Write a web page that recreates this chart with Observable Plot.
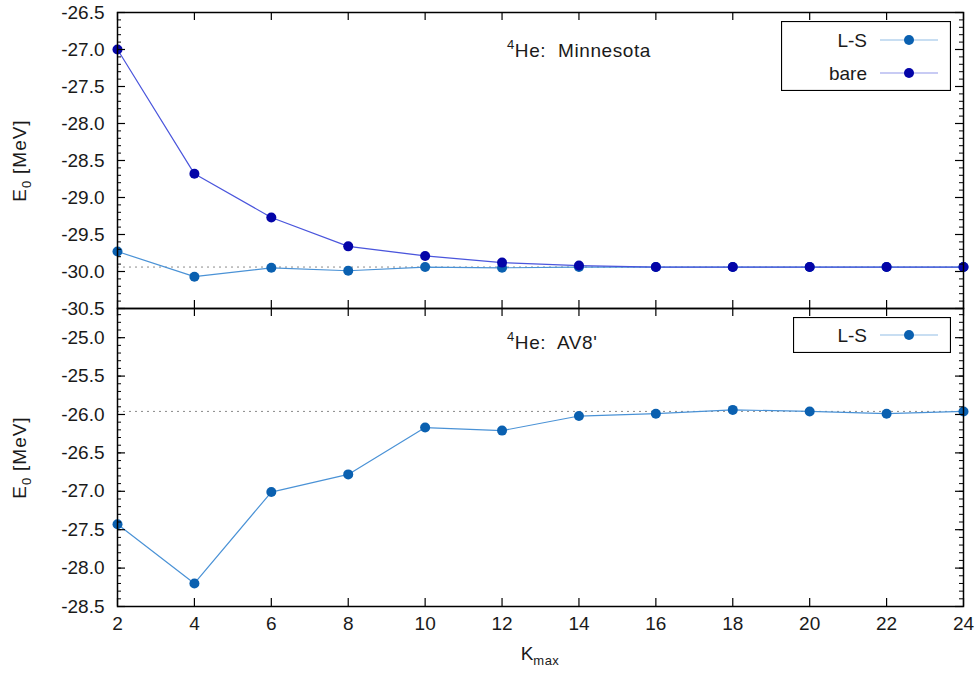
<!DOCTYPE html>
<html>
<head>
<meta charset="utf-8">
<script src="https://cdn.jsdelivr.net/npm/d3@7"></script>
<script src="https://cdn.jsdelivr.net/npm/@observablehq/plot@0.6"></script>
<style>
  html, body { margin: 0; padding: 0; background: #fff; }
  #chart { position: relative; width: 977px; height: 673px; font-family: "Liberation Sans", Arial, sans-serif; color: #1a1a1a; }
  #chart svg.plot { position: absolute; left: 0; }
  .ann { position: absolute; font-size: 19px; line-height: 19px; white-space: pre; letter-spacing: 0.6px; }
  .ann sup { font-size: 13px; vertical-align: 0; position: relative; top: -8px; }
  .ylab { position: absolute; width: 200px; text-align: center; font-size: 19px; line-height: 19px; transform: rotate(-90deg); white-space: nowrap; letter-spacing: 1px; }
  .ylab sub, .xlab sub { font-size: 13px; vertical-align: 0; position: relative; top: 5px; letter-spacing: 0.5px; }
  .xlab { position: absolute; width: 200px; text-align: center; font-size: 19px; line-height: 19px; }
</style>
</head>
<body>
<div id="chart"></div>
<script>
// ---- data ----
const K = [2, 4, 6, 8, 10, 12, 14, 16, 18, 20, 22, 24];
const minnesotaLS   = [-29.73, -30.07, -29.95, -29.99, -29.94, -29.95, -29.94, -29.94, -29.94, -29.94, -29.94, -29.94];
const minnesotaBare = [-27.00, -28.68, -29.27, -29.66, -29.79, -29.88, -29.92, -29.94, -29.94, -29.94, -29.94, -29.94];
const av8LS         = [-27.43, -28.20, -27.01, -26.78, -26.17, -26.21, -26.02, -25.99, -25.94, -25.96, -25.99, -25.96];
const minnesotaRef = [-29.94];
const av8Ref = [-25.96];
const topYTicks = [-30.5, -30.0, -29.5, -29.0, -28.5, -28.0, -27.5, -27.0, -26.5];
const botYTicks = [-28.5, -28.0, -27.5, -27.0, -26.5, -26.0, -25.5, -25.0];
const topYDomain = [-30.5, -26.5];
const botYDomain = [-28.5, -24.62];
const topMinor = d3.range(-305, -264, 1).map(v => v / 10);
const botMinor = d3.range(-285, -246, 1).map(v => v / 10);

// ---- styles ----
const W = 977, ML = 117, MR = 14;
const innerW = W - ML - MR;
const lsLine = "#4a92d6", lsDot = "#0a60b0";
const bareLine = "#4a55dc", bareDot = "#0404a8";
const font = "Liberation Sans, Arial, sans-serif";
const fmt = d => d.toFixed(1);

const rowsLS = K.map((k, i) => ({k, e: minnesotaLS[i]}));
const rowsBare = K.map((k, i) => ({k, e: minnesotaBare[i]}));
const rowsAV8 = K.map((k, i) => ({k, e: av8LS[i]}));

function frameTicks(innerH, major, minor) {
  return [
    Plot.tickY(major, {y: d => d, insetRight: innerW - 8, stroke: "#000", strokeWidth: 1.2}),
    Plot.tickY(major, {y: d => d, insetLeft: innerW - 8, stroke: "#000", strokeWidth: 1.2}),
    Plot.tickY(minor, {y: d => d, insetRight: innerW - 4, stroke: "#000", strokeWidth: 1}),
    Plot.tickY(minor, {y: d => d, insetLeft: innerW - 4, stroke: "#000", strokeWidth: 1}),
    Plot.tickX(K, {x: d => d, insetTop: innerH - 8, stroke: "#000", strokeWidth: 1.2}),
    Plot.tickX(K, {x: d => d, insetBottom: innerH - 8, stroke: "#000", strokeWidth: 1.2})
  ];
}

// ---- top panel ----
const topH = 310, topMT = 12, topMB = 2;
const topPlot = Plot.plot({
  width: W, height: topH,
  marginLeft: ML, marginRight: MR, marginTop: topMT, marginBottom: topMB,
  style: {fontFamily: font, fontSize: "19px", color: "#1a1a1a", overflow: "visible"},
  x: {domain: [2, 24], axis: null},
  y: {domain: topYDomain},
  marks: [
    Plot.ruleY(minnesotaRef, {stroke: "#8a8a8a", strokeDasharray: "2,4", strokeWidth: 1}),
    Plot.line(rowsLS, {x: "k", y: "e", stroke: lsLine, strokeWidth: 1.2}),
    Plot.line(rowsBare, {x: "k", y: "e", stroke: bareLine, strokeWidth: 1.2}),
    Plot.dot(rowsLS, {x: "k", y: "e", r: 5, fill: lsDot}),
    Plot.dot(rowsBare, {x: "k", y: "e", r: 5, fill: bareDot}),
    ...frameTicks(topH - topMT - topMB, topYTicks, topMinor),
    Plot.frame({stroke: "#000", strokeWidth: 1.5}),
    Plot.axisY(topYTicks, {anchor: "left", tickSize: 0, tickPadding: 13, tickFormat: fmt, label: null, fontSize: 19, fill: "#1a1a1a"})
  ]
});
topPlot.classList.add("plot");
topPlot.style.top = "0px";

// ---- bottom panel ----
const botH = 375, botMT = 10, botMB = 67;
const botPlot = Plot.plot({
  width: W, height: botH,
  marginLeft: ML, marginRight: MR, marginTop: botMT, marginBottom: botMB,
  style: {fontFamily: font, fontSize: "19px", color: "#1a1a1a", overflow: "visible"},
  x: {domain: [2, 24]},
  y: {domain: botYDomain},
  marks: [
    Plot.ruleY(av8Ref, {stroke: "#8a8a8a", strokeDasharray: "2,4", strokeWidth: 1}),
    Plot.line(rowsAV8, {x: "k", y: "e", stroke: lsLine, strokeWidth: 1.2}),
    Plot.dot(rowsAV8, {x: "k", y: "e", r: 5, fill: lsDot}),
    ...frameTicks(botH - botMT - botMB, botYTicks, botMinor),
    Plot.frame({stroke: "#000", strokeWidth: 1.5}),
    Plot.axisY(botYTicks, {anchor: "left", tickSize: 0, tickPadding: 13, tickFormat: fmt, label: null, fontSize: 19, fill: "#1a1a1a"}),
    Plot.axisX(K, {anchor: "bottom", tickSize: 0, tickPadding: 10, label: null, fontSize: 19, fill: "#1a1a1a"})
  ]
});
botPlot.classList.add("plot");
botPlot.style.top = "298px";

const chart = document.getElementById("chart");
chart.appendChild(topPlot);
chart.appendChild(botPlot);

// ---- annotations, axis titles ----
function addHTML(html) { chart.insertAdjacentHTML("beforeend", html); }
addHTML(`<div class="ann" style="left:507px;top:41px"><sup>4</sup>He:&nbsp; Minnesota</div>`);
addHTML(`<div class="ann" style="left:507px;top:333px"><sup>4</sup>He:&nbsp; AV8'</div>`);
addHTML(`<div class="ylab" style="left:-80px;top:150px">E<sub>0</sub> [MeV]</div>`);
addHTML(`<div class="ylab" style="left:-80px;top:447px">E<sub>0</sub> [MeV]</div>`);
addHTML(`<div class="xlab" style="left:440px;top:644px">K<sub>max</sub></div>`);

// ---- legends ----
function legend(left, topPx, w, h, entries) {
  const ns = "http://www.w3.org/2000/svg";
  const svg = document.createElementNS(ns, "svg");
  svg.setAttribute("width", w);
  svg.setAttribute("height", h);
  svg.style.position = "absolute";
  svg.style.left = left + "px";
  svg.style.top = topPx + "px";
  svg.style.fontFamily = font;
  const box = document.createElementNS(ns, "rect");
  box.setAttribute("x", 0.5); box.setAttribute("y", 0.5);
  box.setAttribute("width", w - 1); box.setAttribute("height", h - 1);
  box.setAttribute("fill", "#fff"); box.setAttribute("stroke", "#000"); box.setAttribute("stroke-width", 1.2);
  svg.appendChild(box);
  entries.forEach(en => {
    const t = document.createElementNS(ns, "text");
    t.setAttribute("x", 867 - left); t.setAttribute("y", en.y - topPx);
    t.setAttribute("text-anchor", "end"); t.setAttribute("dominant-baseline", "central");
    t.setAttribute("font-size", 19); t.setAttribute("fill", "#1a1a1a");
    t.textContent = en.label;
    svg.appendChild(t);
    const l = document.createElementNS(ns, "line");
    l.setAttribute("x1", 880 - left); l.setAttribute("x2", 938 - left);
    l.setAttribute("y1", en.y - topPx); l.setAttribute("y2", en.y - topPx);
    l.setAttribute("stroke", en.line); l.setAttribute("stroke-width", 1.2); l.setAttribute("stroke-opacity", 0.6);
    svg.appendChild(l);
    const c = document.createElementNS(ns, "circle");
    c.setAttribute("cx", 909 - left); c.setAttribute("cy", en.y - topPx); c.setAttribute("r", 5);
    c.setAttribute("fill", en.dot);
    svg.appendChild(c);
  });
  chart.appendChild(svg);
}
legend(781, 21, 170, 70, [
  {label: "L-S", y: 40, line: lsLine, dot: lsDot},
  {label: "bare", y: 73, line: bareLine, dot: bareDot}
]);
legend(793, 317, 158, 36, [
  {label: "L-S", y: 335, line: lsLine, dot: lsDot}
]);
</script>
</body>
</html>
